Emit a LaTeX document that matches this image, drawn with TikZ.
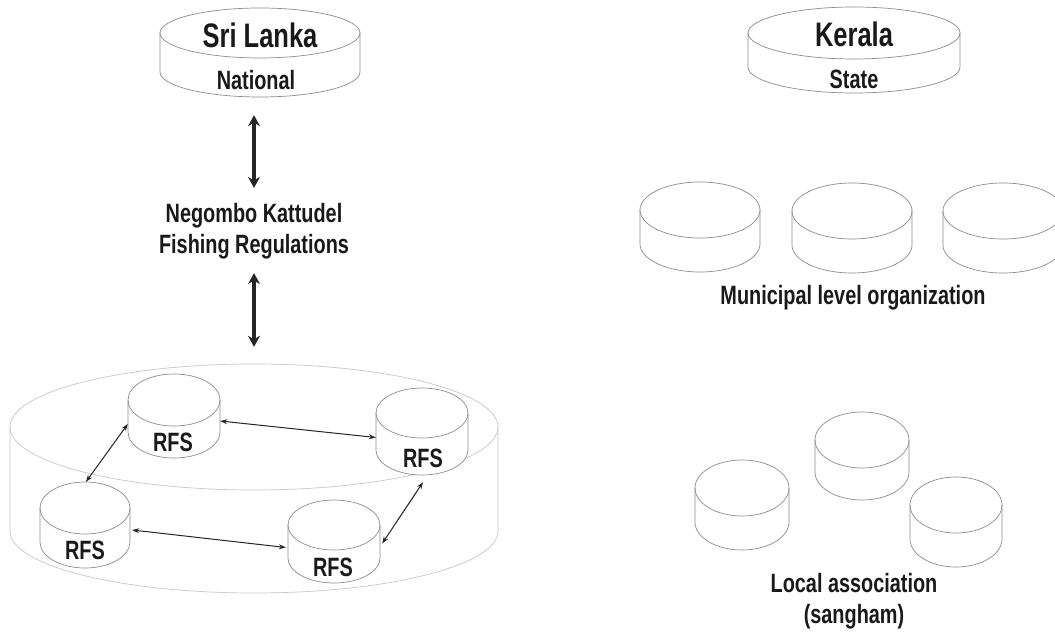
\documentclass[tikz,border=0pt]{standalone}
\usepackage{fontspec}
\setmainfont[FakeStretch=0.75]{Liberation Sans Bold}
\usetikzlibrary{arrows.meta}
\tikzset{
  cylline/.style={draw=black!45, line width=0.7pt, fill=white},
  bigline/.style={draw=black!22, line width=0.7pt},
  lbl/.style={inner sep=0pt, text=black!90, font=\fontsize{26.5}{31}\selectfont, align=center},
  biglbl/.style={inner sep=0pt, text=black!90, font=\fontsize{34}{38}\selectfont},
  thinarrow/.style={{Stealth[length=7pt,width=5pt]}-{Stealth[length=7pt,width=5pt]}, line width=1pt, black!85},
  thickarrow/.style={{Stealth[length=11pt,width=12pt]}-{Stealth[length=11pt,width=12pt]}, line width=3.8pt, black!85},
  box/.style={inner sep=0pt, draw=none}
}
% #1 name, #2 cx, #3 top centre y, #4 rx, #5 ry, #6 height, #7 style
\newcommand\mycyl[7]{%
  \node[box, minimum width=2*#4pt, minimum height={2*#5pt+#6pt}] (#1) at (#2,{#3+#6/2}) {};
  \fill[white] (#2-#4,#3) -- ++(0,#6) arc[start angle=180,end angle=0,x radius=#4,y radius=#5] -- ++(0,-#6) arc[start angle=0,end angle=180,x radius=#4,y radius=#5] -- cycle;
  \draw[#7] (#2,#3) ellipse [x radius=#4, y radius=#5];
  \draw[#7, fill=none] (#2-#4,#3) -- ++(0,#6) arc[start angle=180,end angle=0,x radius=#4,y radius=#5] -- ++(0,-#6);
}
\begin{document}
\begin{tikzpicture}[x=1pt,y=-1pt]
\useasboundingbox (0,0) rectangle (1055,636);
\clip (0,0) rectangle (1055,636);
\fill[white] (0,0) rectangle (1055,636);

% ---------- Sri Lanka side ----------
\mycyl{sl}{260}{33}{100}{25}{39}{cylline}
\node[biglbl] (sltxt) at (260,35) {Sri Lanka};
\node[lbl] (nat) at (256,80) {National};

\node[lbl] (neg) at (254,231) {Negombo Kattudel\\Fishing Regulations};

% big cylinder
\draw[bigline] (254,427) ellipse [x radius=244, y radius=63];
\draw[bigline] (10,427) -- ++(0,104) arc[start angle=180,end angle=0,x radius=244,y radius=62] -- ++(0,-104);
\node[box, minimum width=488pt, minimum height=230pt] (big) at (254,479) {};

\draw[thickarrow, shorten <=18pt, shorten >=15pt] (neg.north |- sl.south) -- (neg.north);
\draw[thickarrow, shorten <=14pt, shorten >=17pt] (neg.south) -- (neg.south |- big.north);

\mycyl{r1}{174}{400}{46}{26}{32}{cylline}
\mycyl{r2}{422}{413}{46}{25}{37}{cylline}
\mycyl{r3}{85}{508}{45}{26}{34}{cylline}
\mycyl{r4}{334}{525}{46}{25}{33}{cylline}
\node[lbl] (t1) at (173,442) {RFS};
\node[lbl] (t2) at (423,458) {RFS};
\node[lbl] (t3) at (85,550) {RFS};
\node[lbl] (t4) at (333,567) {RFS};

\draw[thinarrow] ([yshift=-5pt]r1.east) -- ([yshift=-6pt]r2.west);
\draw[thinarrow] ([yshift=-8pt]r1.west) -- ([xshift=1pt]r3.north);
\draw[thinarrow] ([xshift=2pt,yshift=-5pt]r3.east) -- ([xshift=-2pt,yshift=-6pt]r4.west);
\draw[thinarrow] ([xshift=2pt,yshift=-2pt]r4.east) -- ([xshift=1pt,yshift=-7pt]r2.south);

% ---------- Kerala side ----------
\mycyl{ke}{854}{33}{106}{26}{34}{cylline}
\node[biglbl] (ketxt) at (854,34) {Kerala};
\node[lbl] (state) at (854,79) {State};

\mycyl{m1}{700}{210}{60}{28}{34}{cylline}
\mycyl{m2}{852}{211}{60}{28}{34}{cylline}
\mycyl{m3}{1003}{211}{60}{28}{34}{cylline}
\node[lbl] (mun) at (853,298) {Municipal level organization};

\mycyl{a1}{742}{488}{47}{28}{34}{cylline}
\mycyl{a2}{862}{440}{47}{28}{32}{cylline}
\mycyl{a3}{956}{505}{46}{28}{34}{cylline}
\node[lbl] (loc) at (854,601) {Local association\\(sangham)};
\end{tikzpicture}
\end{document}
